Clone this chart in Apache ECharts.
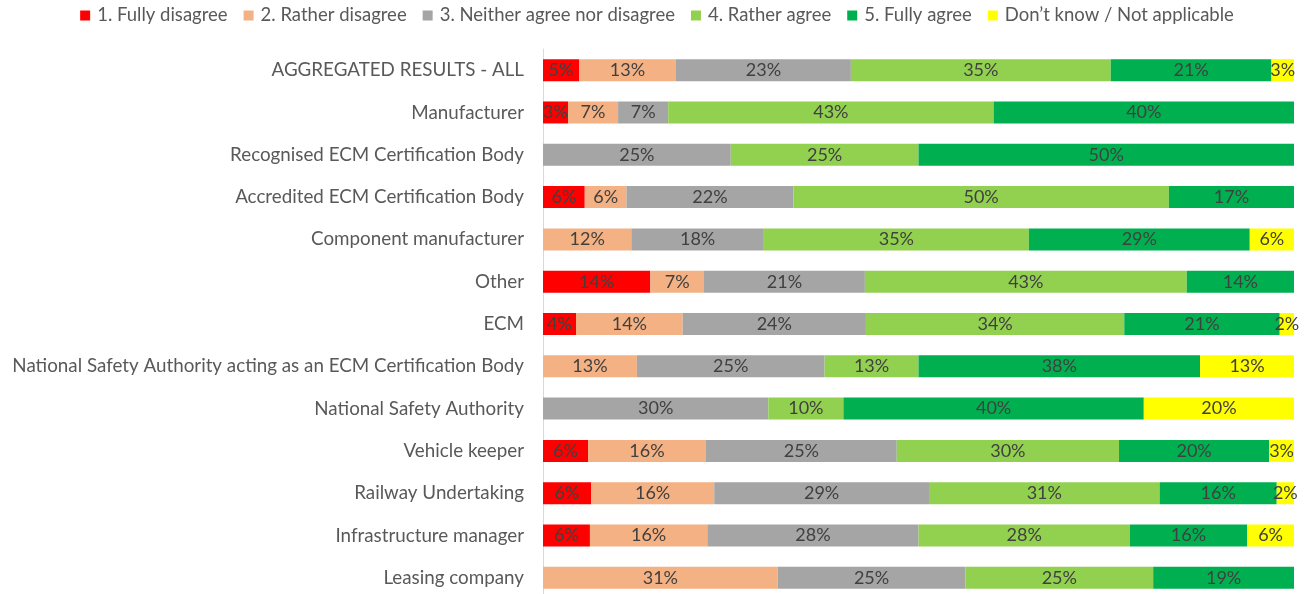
<!DOCTYPE html>
<html>
<head>
<meta charset="utf-8">
<script src="https://cdn.jsdelivr.net/npm/echarts@6/dist/echarts.min.js"></script>
<style>
  html, body { margin: 0; padding: 0; background: #fff; }
  #chart { width: 1314px; height: 594px; }
</style>
</head>
<body>
<div id="chart"></div>
<script>
// respondent groups, top to bottom
const groups = [
  "AGGREGATED RESULTS - ALL",
  "Manufacturer",
  "Recognised ECM Certification Body",
  "Accredited ECM Certification Body",
  "Component manufacturer",
  "Other",
  "ECM",
  "National Safety Authority acting as an ECM Certification Body",
  "National Safety Authority",
  "Vehicle keeper",
  "Railway Undertaking",
  "Infrastructure manager",
  "Leasing company"
]

const answerNames = [
  "1. Fully disagree",
  "2. Rather disagree",
  "3. Neither agree nor disagree",
  "4. Rather agree",
  "5. Fully agree",
  "Don\u2019t know / Not applicable"
]
const answerColors = ["#FF0000", "#F4B183", "#A5A5A5", "#92D050", "#00B050", "#FFFF00"]

// shares in %, same order as groups
const fullyDisagree   = [4.8, 3.33, 0, 5.56, 0, 14.29, 4.4, 0, 0, 6.0, 6.4, 6.25, 0]
const ratherDisagree  = [12.9, 6.67, 0, 5.56, 11.76, 7.14, 14.2, 12.5, 0, 15.7, 16.4, 15.63, 31.25]
const neither         = [23.3, 6.67, 25, 22.22, 17.65, 21.43, 24.4, 25, 30, 25.4, 28.6, 28.13, 25]
const ratherAgree     = [34.6, 43.33, 25, 50, 35.29, 42.86, 34.4, 12.5, 10, 29.6, 30.7, 28.13, 25]
const fullyAgree      = [21.4, 40, 50, 16.67, 29.41, 14.29, 20.7, 37.5, 40, 20.0, 15.6, 15.63, 18.75]
const dontKnow        = [3.0, 0, 0, 0, 5.88, 0, 1.9, 12.5, 20, 3.3, 2.3, 6.25, 0]

const seriesValues = [fullyDisagree, ratherDisagree, neither, ratherAgree, fullyAgree, dontKnow]

const chart = echarts.init(document.getElementById("chart"))

const option = {
  animation: false,
  textStyle: { fontFamily: "Lato" },
  legend: {
    top: 1,
    left: "center",
    icon: "rect",
    itemWidth: 10,
    itemHeight: 10,
    itemGap: 16,
    textStyle: { color: "#595959", fontSize: 18.5, fontFamily: "Lato", padding: [0, 0, 0, 2] }
  },
  grid: {
    left: 543,
    right: 20,
    top: 49,
    height: 550,
    outerBoundsMode: "none",
    containLabel: false
  },
  xAxis: {
    type: "value",
    min: 0,
    max: 100,
    show: false
  },
  yAxis: {
    type: "category",
    inverse: true,
    data: groups,
    axisLine: { show: true, lineStyle: { color: "#D9D9D9", width: 1 } },
    axisTick: { show: false },
    axisLabel: { color: "#595959", fontSize: 18.8, fontFamily: "Lato", margin: 19 }
  },
  series: seriesValues.map((vals, i) => ({
    name: answerNames[i],
    type: "bar",
    stack: "all",
    barWidth: 22,
    data: vals.map(v => (v > 0 ? v : null)),
    itemStyle: { color: answerColors[i] },
    label: {
      show: true,
      position: "inside",
      color: "#404040",
      fontSize: 18,
      fontFamily: "Lato",
      formatter: p => Math.round(p.value) + "%"
    }
  }))
}

chart.setOption(option)
</script>
</body>
</html>
